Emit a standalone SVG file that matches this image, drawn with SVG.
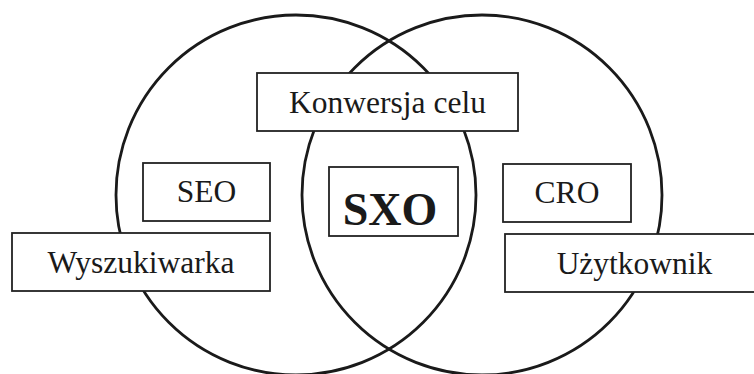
<svg xmlns="http://www.w3.org/2000/svg" width="754" height="374" viewBox="0 0 754 374">
<style>
.ring{fill:none;stroke:#1a1a1a;stroke-width:2.8}
.box{fill:#fff;stroke:#222;stroke-width:1.8}
.lbl{font-family:"Liberation Serif","Times New Roman",serif;font-size:31.5px;fill:#1a1a1a;text-anchor:middle}
.big{font-size:46px;font-weight:bold}
</style>
<rect width="754" height="374" fill="#fff"/>
<g id="circles">
<circle class="ring" cx="296" cy="195" r="180"/>
<circle class="ring" cx="482" cy="195" r="180"/>
</g>
<g id="konwersja">
<rect class="box" x="257" y="73" width="261" height="58"/>
<text class="lbl" x="387.5" y="113">Konwersja celu</text>
</g>
<g id="seo">
<rect class="box" x="143" y="163" width="127" height="58"/>
<text class="lbl" x="206.5" y="202">SEO</text>
</g>
<g id="sxo">
<rect class="box" x="329" y="167" width="129" height="69"/>
<text class="lbl big" x="390" y="225">SXO</text>
</g>
<g id="cro">
<rect class="box" x="503" y="164" width="128" height="58"/>
<text class="lbl" x="567" y="203">CRO</text>
</g>
<g id="wyszukiwarka">
<rect class="box" x="12" y="233" width="258" height="58"/>
<text class="lbl" x="141" y="273">Wyszukiwarka</text>
</g>
<g id="uzytkownik">
<rect class="box" x="505" y="234" width="262" height="58"/>
<text class="lbl" x="634.5" y="274">Użytkownik</text>
</g>
</svg>
